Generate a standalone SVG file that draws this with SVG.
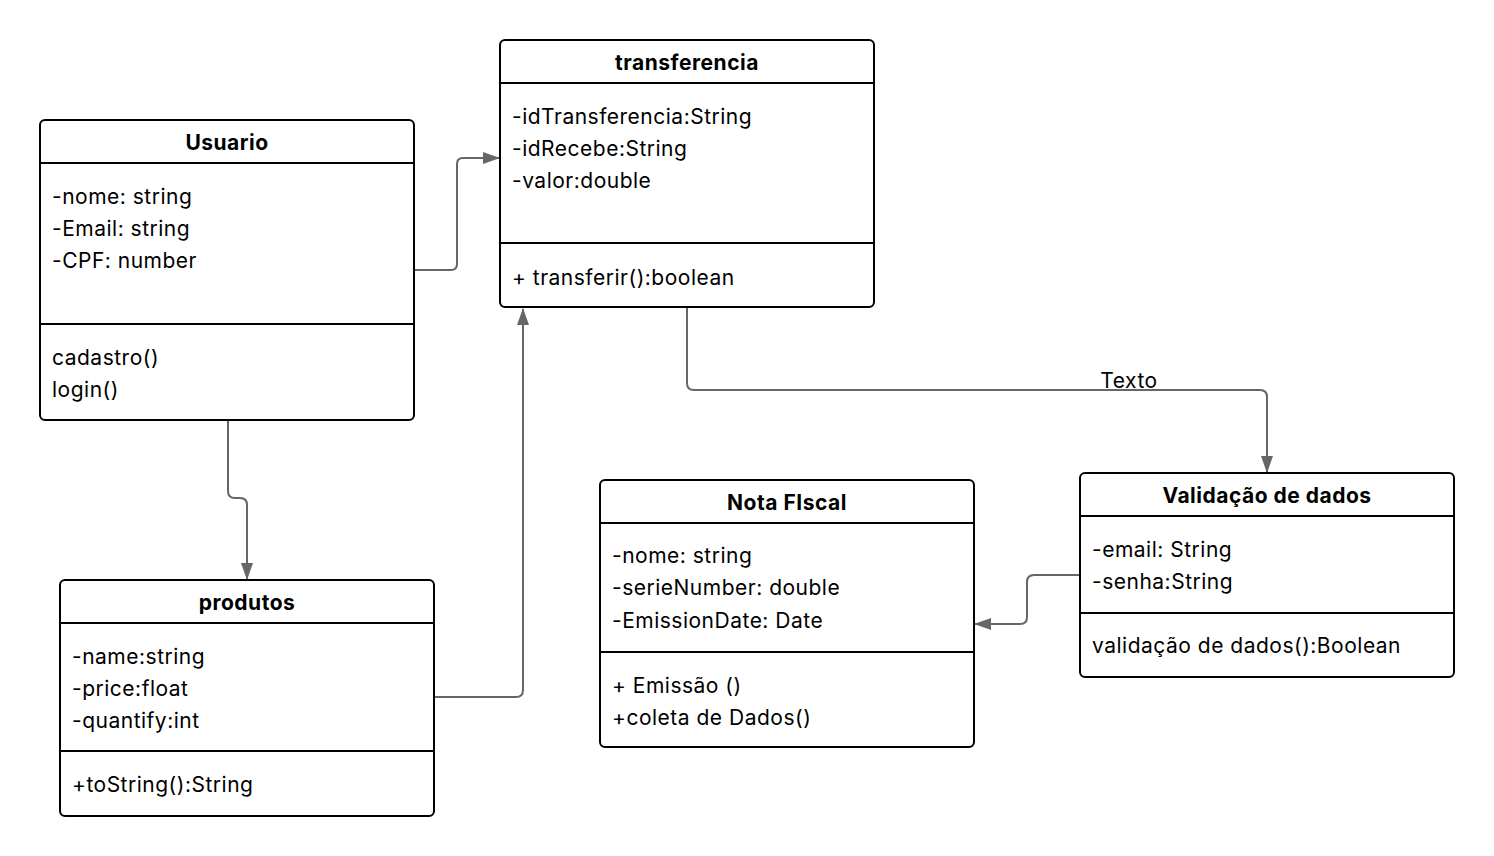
<svg xmlns="http://www.w3.org/2000/svg" width="1494" height="856" viewBox="0 0 1494 856">
  <defs>
    <style>
      .box { fill: #ffffff; stroke: #000000; stroke-width: 2; }
      .sep { stroke: #000000; stroke-width: 2; }
      .title { font-family: Inter, "Liberation Sans", sans-serif; font-size: 21px; letter-spacing: 0.5px; font-weight: 700; fill: #000000; text-anchor: middle; dominant-baseline: central; }
      .item { font-family: Inter, "Liberation Sans", sans-serif; font-size: 21px; letter-spacing: 0.5px; fill: #000000; dominant-baseline: central; }
      .edge { fill: none; stroke: #666666; stroke-width: 2; stroke-linejoin: round; }
      .lbl { font-family: Inter, "Liberation Sans", sans-serif; font-size: 21px; letter-spacing: 0.5px; fill: #000000; text-anchor: middle; dominant-baseline: central; }
    </style>
    <marker id="arrow" viewBox="0 0 17 12" refX="16" refY="6" markerWidth="17" markerHeight="12" markerUnits="userSpaceOnUse" orient="auto">
      <path d="M0,0 L17,6 L0,12 Z" fill="#666666"/>
    </marker>
  </defs>
  <rect width="1494" height="856" fill="#ffffff"/>

  <!-- connectors -->
  <g id="connectors">
    <path class="edge" marker-end="url(#arrow)" d="M414,270 H451 Q457,270 457,264 V164 Q457,158 463,158 H499"/>
    <path class="edge" marker-end="url(#arrow)" d="M228,421 V491 Q228,498 235,498 H240 Q247,498 247,505 V579"/>
    <path class="edge" marker-end="url(#arrow)" d="M434,697 H516 Q523,697 523,690 V309"/>
    <path class="edge" marker-end="url(#arrow)" d="M687,308 V383 Q687,390 694,390 H1260 Q1267,390 1267,397 V472"/>
    <path class="edge" marker-end="url(#arrow)" d="M1080,575 H1034 Q1027,575 1027,582 V617 Q1027,624 1020,624 H975"/>
    <text class="lbl" x="1129" y="380">Texto</text>
  </g>

  <!-- Usuario -->
  <g id="usuario">
    <rect class="box" x="40" y="120" width="374" height="300" rx="5"/>
    <line class="sep" x1="40" y1="163" x2="414" y2="163"/>
    <line class="sep" x1="40" y1="324" x2="414" y2="324"/>
    <text class="title" x="227" y="142">Usuario</text>
    <text class="item" x="52" y="196">-nome: string</text>
    <text class="item" x="52" y="228">-Email: string</text>
    <text class="item" x="52" y="260">-CPF: number</text>
    <text class="item" x="52" y="357">cadastro()</text>
    <text class="item" x="52" y="389">login()</text>
  </g>

  <!-- transferencia -->
  <g id="transferencia">
    <rect class="box" x="500" y="40" width="374" height="267" rx="5"/>
    <line class="sep" x1="500" y1="83" x2="874" y2="83"/>
    <line class="sep" x1="500" y1="243" x2="874" y2="243"/>
    <text class="title" x="687" y="62">transferencia</text>
    <text class="item" x="512" y="116">-idTransferencia:String</text>
    <text class="item" x="512" y="148">-idRecebe:String</text>
    <text class="item" x="512" y="180">-valor:double</text>
    <text class="item" x="512" y="277">+ transferir():boolean</text>
  </g>

  <!-- produtos -->
  <g id="produtos">
    <rect class="box" x="60" y="580" width="374" height="236" rx="5"/>
    <line class="sep" x1="60" y1="623" x2="434" y2="623"/>
    <line class="sep" x1="60" y1="751" x2="434" y2="751"/>
    <text class="title" x="247" y="602">produtos</text>
    <text class="item" x="72" y="656">-name:string</text>
    <text class="item" x="72" y="688">-price:float</text>
    <text class="item" x="72" y="720">-quantify:int</text>
    <text class="item" x="72" y="784">+toString():String</text>
  </g>

  <!-- Nota Fiscal -->
  <g id="nota-fiscal">
    <rect class="box" x="600" y="480" width="374" height="267" rx="5"/>
    <line class="sep" x1="600" y1="523" x2="974" y2="523"/>
    <line class="sep" x1="600" y1="652" x2="974" y2="652"/>
    <text class="title" x="787" y="502">Nota FIscal</text>
    <text class="item" x="612" y="555">-nome: string</text>
    <text class="item" x="612" y="587">-serieNumber: double</text>
    <text class="item" x="612" y="620">-EmissionDate: Date</text>
    <text class="item" x="612" y="685">+ Emissão ()</text>
    <text class="item" x="612" y="717">+coleta de Dados()</text>
  </g>

  <!-- Validação de dados -->
  <g id="validacao">
    <rect class="box" x="1080" y="473" width="374" height="204" rx="5"/>
    <line class="sep" x1="1080" y1="516" x2="1454" y2="516"/>
    <line class="sep" x1="1080" y1="613" x2="1454" y2="613"/>
    <text class="title" x="1267" y="495">Validação de dados</text>
    <text class="item" x="1092" y="549">-email: String</text>
    <text class="item" x="1092" y="581">-senha:String</text>
    <text class="item" x="1092" y="645">validação de dados():Boolean</text>
  </g>
</svg>
